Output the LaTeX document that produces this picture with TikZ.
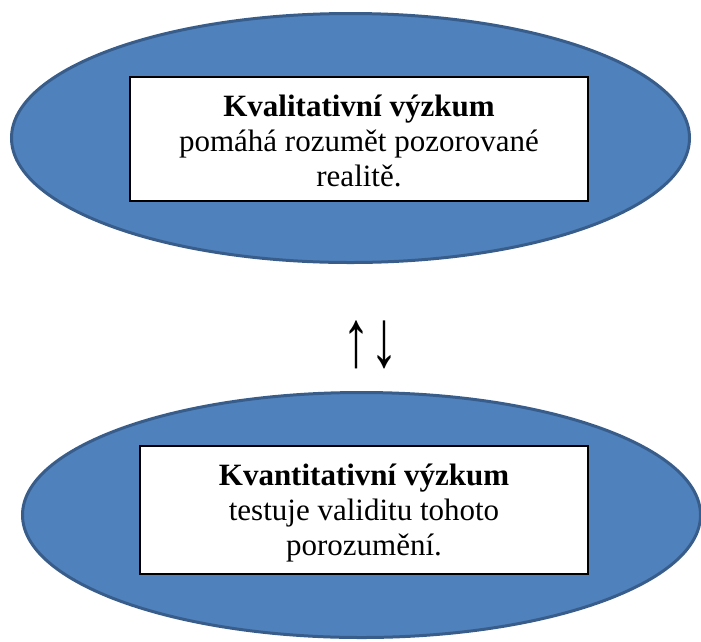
\documentclass[tikz,border=0pt]{standalone}
\usepackage{fontspec}
\setmainfont{Liberation Serif}
\usetikzlibrary{shapes.geometric}
\definecolor{ellfill}{HTML}{4F81BD}
\definecolor{ellline}{HTML}{385D8A}
\tikzset{
  oval/.style={ellipse, draw=ellline, fill=ellfill, line width=3pt, inner sep=0pt},
  box/.style={rectangle, draw=black, fill=white, line width=1.5pt, inner sep=0pt},
  txt/.style={font=\fontsize{31}{35.5}\selectfont, inner sep=0pt, anchor=base},
}
\begin{document}
\begin{tikzpicture}[x=1pt,y=-1pt]
\useasboundingbox (0,0) rectangle (701,641);
\clip (0,0) rectangle (701,641);
\node[oval, minimum width=678pt, minimum height=249pt] (top) at (350.5,138) {};
\node[oval, minimum width=678pt, minimum height=245pt] (bot) at (361.5,515) {};
\node[box, minimum width=458pt, minimum height=124pt] (tbox) at (359,139) {};
\node[box, minimum width=448pt, minimum height=128pt] (bbox) at (364,510) {};
\node[txt] (t1) at (359,116) {\bfseries Kvalitativní výzkum};
\node[txt] (t2) at (359,151) {pomáhá rozumět pozorované};
\node[txt] (t3) at (359,186.5) {realitě.};
\node[txt] (b1) at (364,485) {\bfseries Kvantitativní výzkum};
\node[txt] (b2) at (364,520) {testuje validitu tohoto};
\node[txt] (b3) at (364,555) {porozumění.};
\node[font=\fontsize{56}{56}\selectfont, inner sep=0pt] (arr) at (370,345) {\scalebox{1}[1.45]{↑↓}};
\end{tikzpicture}
\end{document}
